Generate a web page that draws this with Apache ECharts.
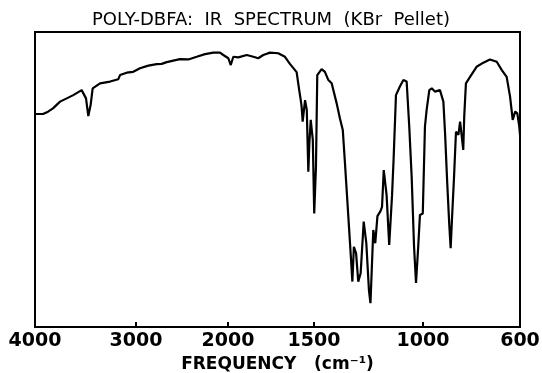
<!DOCTYPE html>
<html>
<head>
<meta charset="utf-8">
<script src="https://cdn.jsdelivr.net/npm/echarts@6/dist/echarts.min.js"></script>
<style>html,body{margin:0;padding:0;background:#fff;}#chart{width:542px;height:373px;}</style>
</head>
<body>
<div id="chart"></div>
<script>
// Wavenumber (cm-1) of each traced point
const wavenumber = [4000,3921,3871,3822,3752,3686,3621,3538,3522,3495,3472,3449,3429,3356,3257,3175,3158,3092,3027,
  2957,2866,2775,2721,2666,2522,2431,2340,2250,2160,2087,2051,
  1998,1984,1969,1940,1891,1853,1824,1795,1756,1708,1669,1640,1601,1586,1577,1572,1566,1552,1542,1533,1527,1519,1513,1507,
  1499,1491,1485,1465,1450,1434,1419,1396,1381,1368,1358,1343,1330,1324,1317,1307,1297,1286,1272,1260,1248,1241,1228,1219,1209,
  1195,1188,1180,1167,1155,1142,1135,1124,1106,1090,1075,1063,1052,1041,1032,1022,1014,1001,
  992,985,974,964,951,944,930,916,909,900,892,886,880,872,864,854,847,840,834,830,823,806,779,751,724,696,675,655,641,630,620,611,603,600];
// Transmittance (% of chart height)
const transmittance = [72.2,72.2,73.0,74.1,76.4,77.5,78.6,80.3,80.6,77.5,71.5,75.3,80.9,82.6,83.2,84.0,85.4,86.2,86.5,
  87.7,88.6,89.1,89.2,89.8,90.8,90.7,91.6,92.5,93.0,93.0,92.2,
  91.1,88.8,91.6,91.4,92.2,91.6,91.1,92.2,93.0,92.8,91.6,89.2,86.4,80.3,76.9,74.7,69.6,76.9,73.6,52.6,62.3,70.2,70.7,63.4,
  38.5,54.3,85.4,87.4,86.5,83.7,82.6,75.8,70.7,66.8,55.6,38.0,22.7,15.4,27.2,25.0,15.4,18.2,35.7,28.4,12.5,8.1,32.9,28.4,37.6,
  39.3,40.7,53.2,44.7,27.8,44.7,56.6,78.6,81.5,83.7,83.2,67.9,50.9,27.2,14.9,27.2,38.0,38.5,
  67.9,73.6,80.3,80.9,79.8,79.8,80.3,76.4,65.7,48.7,35.2,26.7,37.4,50.9,66.2,65.1,69.6,64.5,60.0,71.3,82.6,84.8,88.2,89.6,90.7,89.9,87.1,84.8,78.1,70.2,73.0,72.4,67.9,65.1];
// Tick labels of the frequency axis and the chart's non-uniform scale
const tickWavenumbers = [4000,3000,2000,1500,1000,600];
const tickLabels = ['4000','3000','2000','1500','1000','600'];
const scaleUnits = [0,101,193,279,388,485];

function toScale(wn){
  for(let i=0;i<tickWavenumbers.length-1;i++){
    const a=tickWavenumbers[i], b=tickWavenumbers[i+1];
    if(wn<=a && wn>=b){
      return scaleUnits[i] + (a-wn)/(a-b)*(scaleUnits[i+1]-scaleUnits[i]);
    }
  }
  return wn>tickWavenumbers[0]?scaleUnits[0]:scaleUnits[scaleUnits.length-1];
}
const tickPos = tickWavenumbers.map(toScale);
const data = wavenumber.map((w,i)=>[toScale(w), transmittance[i]]);

const chart = echarts.init(document.getElementById('chart'), null, {renderer:'canvas'});
chart.setOption({
  animation:false,
  backgroundColor:'#fff',
  title:{
    text:'POLY-DBFA:  IR  SPECTRUM  (KBr  Pellet)',
    left:'center', top:6,
    textStyle:{fontFamily:'DejaVu Sans', fontSize:18, fontWeight:'normal', color:'#000'}
  },
  grid:{left:35,right:22,top:32,bottom:46,show:true,borderColor:'#000',borderWidth:2,outerBoundsMode:'none',containLabel:false},
  xAxis:{
    type:'value', min:0, max:tickPos[tickPos.length-1],
    axisLine:{show:true,lineStyle:{color:'#000',width:2}},
    axisTick:{show:true,inside:true,length:5,customValues:tickPos.slice(1,-1),lineStyle:{color:'#000',width:2}},
    axisLabel:{
      customValues:tickPos,
      formatter:function(v){
        let idx=0,best=1e9;
        tickPos.forEach((p,i)=>{const d=Math.abs(p-v); if(d<best){best=d;idx=i;}});
        return tickLabels[idx];
      },
      fontFamily:'DejaVu Sans', fontSize:19, fontWeight:'bold', color:'#000', margin:5
    },
    splitLine:{show:false},
    name:'FREQUENCY   (cm\u207B\u00B9)', nameLocation:'middle', nameGap:22,
    nameTextStyle:{fontFamily:'DejaVu Sans', fontSize:17, fontWeight:'bold', color:'#000'}
  },
  yAxis:{
    type:'value', min:0, max:100,
    axisLine:{show:true,lineStyle:{color:'#000',width:2}},
    axisTick:{show:false}, axisLabel:{show:false}, splitLine:{show:false}
  },
  series:[{
    type:'line', data:data, showSymbol:false, symbol:'none',
    lineStyle:{color:'#000',width:2.2}, silent:true
  }]
});
</script>
</body>
</html>
